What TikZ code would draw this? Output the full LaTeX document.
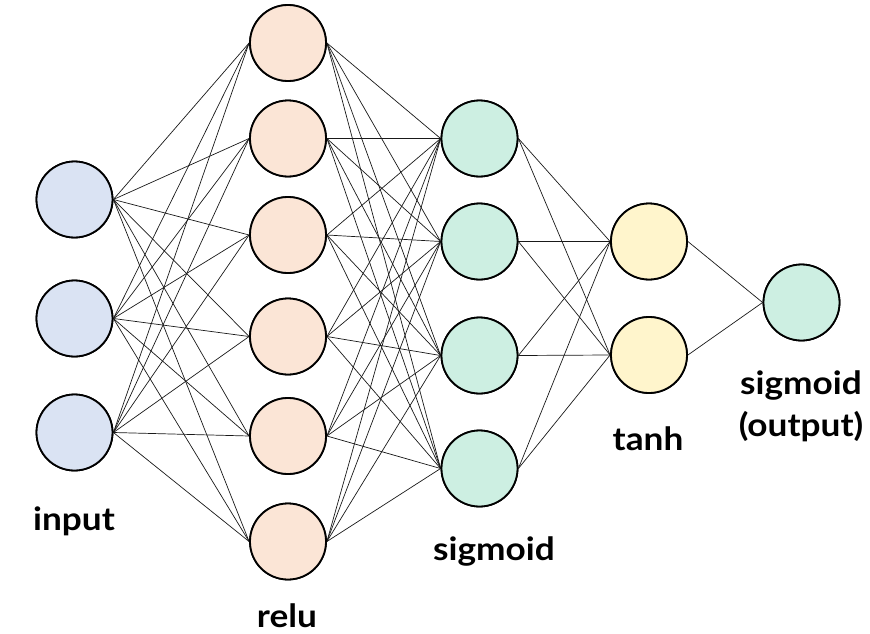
\documentclass[tikz,border=0pt]{standalone}
\usepackage{fontspec}
\setmainfont{Lato}[FakeStretch=1.1]
\begin{document}
\begin{tikzpicture}[x=1pt,y=-1pt,
  neuron/.style={circle,draw=black,line width=1.8pt,minimum size=76pt,inner sep=0pt},
  inp/.style={neuron,fill=inputc},
  rel/.style={neuron,fill=reluc},
  sig/.style={neuron,fill=sigc},
  tnh/.style={neuron,fill=tanhc},
  conn/.style={draw=black!90,line width=0.7pt},
  lbl/.style={font=\fontsize{32}{36}\selectfont\bfseries,align=center,inner sep=0pt}]
\definecolor{inputc}{HTML}{DAE3F3}
\definecolor{reluc}{HTML}{FBE5D6}
\definecolor{sigc}{HTML}{CDEFE2}
\definecolor{tanhc}{HTML}{FFF5CC}
\useasboundingbox (0,0) rectangle (870,634);
% input
\node[inp] (i1) at (74.5,199.5) {};
\node[inp] (i2) at (74.5,318.5) {};
\node[inp] (i3) at (74.5,432.5) {};
% relu
\node[rel] (r1) at (288,43) {};
\node[rel] (r2) at (288,138.5) {};
\node[rel] (r3) at (288,235) {};
\node[rel] (r4) at (288,336.5) {};
\node[rel] (r5) at (288,436) {};
\node[rel] (r6) at (288,541.5) {};
% sigmoid
\node[sig] (s1) at (479.5,138.5) {};
\node[sig] (s2) at (479.5,241.5) {};
\node[sig] (s3) at (479.5,355.5) {};
\node[sig] (s4) at (479.5,468.5) {};
% tanh
\node[tnh] (t1) at (649,241.5) {};
\node[tnh] (t2) at (649,355) {};
% output
\node[sig] (o1) at (801.5,302.5) {};
% connections
\foreach \a in {1,2,3}{\foreach \b in {1,...,6}{\draw[conn] (i\a.east) -- (r\b.west);}}
\foreach \a in {1,...,6}{\foreach \b in {1,...,4}{\draw[conn] (r\a.east) -- (s\b.west);}}
\foreach \a in {1,...,4}{\foreach \b in {1,2}{\draw[conn] (s\a.east) -- (t\b.west);}}
\foreach \a in {1,2}{\draw[conn] (t\a.east) -- (o1.west);}
% redraw nodes on top
\foreach \n/\s in {i1/inp,i2/inp,i3/inp,r1/rel,r2/rel,r3/rel,r4/rel,r5/rel,r6/rel,s1/sig,s2/sig,s3/sig,s4/sig,t1/tnh,t2/tnh,o1/sig}{\node[\s] at (\n) {};}
% labels
\node[lbl,anchor=base] (li) at (74,530) {input};
\node[lbl,anchor=base] (lr) at (287,627) {relu};
\node[lbl,anchor=base] (ls) at (494,560) {sigmoid};
\node[lbl,anchor=base] (lt) at (648,450) {tanh};
\node[lbl,anchor=base] (lo1) at (801,394) {sigmoid};
\node[lbl,anchor=base] (lo2) at (801,436) {(output)};
\end{tikzpicture}
\end{document}
